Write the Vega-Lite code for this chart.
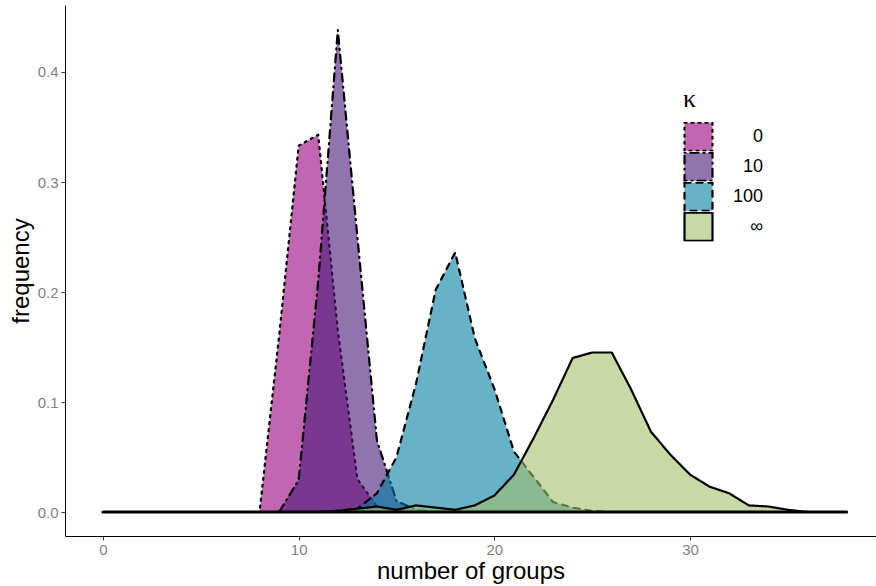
{
  "$schema": "https://vega.github.io/schema/vega-lite/v6.json",
  "width": 811,
  "height": 531,
  "autosize": {"type": "none"},
  "padding": {"left": 65, "top": 5, "right": 0, "bottom": 50},
  "background": "white",
  "config": {
    "view": {"stroke": null},
    "font": "Liberation Sans",
    "axis": {
      "grid": false,
      "domainColor": "#000000",
      "domainWidth": 1,
      "tickColor": "#333333",
      "tickSize": 4,
      "tickWidth": 1,
      "labelColor": "#7F7F7F",
      "labelFontSize": 15,
      "labelFont": "Liberation Sans",
      "titleFont": "Liberation Sans",
      "titleFontSize": 24,
      "titleFontWeight": "normal",
      "titleColor": "#000000"
    },
    "legend": {
      "symbolType": "square",
      "symbolSize": 784,
      "rowPadding": 0,
      "padding": 0
    }
  },
  "data": {
    "values": [
      {"k":"0","x":0,"y":0},{"k":"0","x":1,"y":0},{"k":"0","x":2,"y":0},{"k":"0","x":3,"y":0},{"k":"0","x":4,"y":0},{"k":"0","x":5,"y":0},{"k":"0","x":6,"y":0},{"k":"0","x":7,"y":0},{"k":"0","x":8,"y":0},{"k":"0","x":9,"y":0.16},{"k":"0","x":10,"y":0.333},{"k":"0","x":11,"y":0.343},{"k":"0","x":12,"y":0.165},{"k":"0","x":13,"y":0.03},{"k":"0","x":14,"y":0.005},{"k":"0","x":15,"y":0.001},{"k":"0","x":16,"y":0},{"k":"0","x":17,"y":0},{"k":"0","x":18,"y":0},{"k":"0","x":19,"y":0},{"k":"0","x":20,"y":0},{"k":"0","x":21,"y":0},{"k":"0","x":22,"y":0},{"k":"0","x":23,"y":0},{"k":"0","x":24,"y":0},{"k":"0","x":25,"y":0},{"k":"0","x":26,"y":0},{"k":"0","x":27,"y":0},{"k":"0","x":28,"y":0},{"k":"0","x":29,"y":0},{"k":"0","x":30,"y":0},{"k":"0","x":31,"y":0},{"k":"0","x":32,"y":0},{"k":"0","x":33,"y":0},{"k":"0","x":34,"y":0},{"k":"0","x":35,"y":0},{"k":"0","x":36,"y":0},{"k":"0","x":37,"y":0},{"k":"0","x":38,"y":0},
      {"k":"10","x":0,"y":0},{"k":"10","x":1,"y":0},{"k":"10","x":2,"y":0},{"k":"10","x":3,"y":0},{"k":"10","x":4,"y":0},{"k":"10","x":5,"y":0},{"k":"10","x":6,"y":0},{"k":"10","x":7,"y":0},{"k":"10","x":8,"y":0},{"k":"10","x":9,"y":0},{"k":"10","x":10,"y":0.029},{"k":"10","x":11,"y":0.21},{"k":"10","x":12,"y":0.438},{"k":"10","x":13,"y":0.25},{"k":"10","x":14,"y":0.065},{"k":"10","x":15,"y":0.01},{"k":"10","x":16,"y":0.002},{"k":"10","x":17,"y":0},{"k":"10","x":18,"y":0},{"k":"10","x":19,"y":0},{"k":"10","x":20,"y":0},{"k":"10","x":21,"y":0},{"k":"10","x":22,"y":0},{"k":"10","x":23,"y":0},{"k":"10","x":24,"y":0},{"k":"10","x":25,"y":0},{"k":"10","x":26,"y":0},{"k":"10","x":27,"y":0},{"k":"10","x":28,"y":0},{"k":"10","x":29,"y":0},{"k":"10","x":30,"y":0},{"k":"10","x":31,"y":0},{"k":"10","x":32,"y":0},{"k":"10","x":33,"y":0},{"k":"10","x":34,"y":0},{"k":"10","x":35,"y":0},{"k":"10","x":36,"y":0},{"k":"10","x":37,"y":0},{"k":"10","x":38,"y":0},
      {"k":"100","x":0,"y":0},{"k":"100","x":1,"y":0},{"k":"100","x":2,"y":0},{"k":"100","x":3,"y":0},{"k":"100","x":4,"y":0},{"k":"100","x":5,"y":0},{"k":"100","x":6,"y":0},{"k":"100","x":7,"y":0},{"k":"100","x":8,"y":0},{"k":"100","x":9,"y":0},{"k":"100","x":10,"y":0},{"k":"100","x":11,"y":0},{"k":"100","x":12,"y":0.001},{"k":"100","x":13,"y":0.003},{"k":"100","x":14,"y":0.017},{"k":"100","x":15,"y":0.05},{"k":"100","x":16,"y":0.117},{"k":"100","x":17,"y":0.202},{"k":"100","x":18,"y":0.236},{"k":"100","x":19,"y":0.158},{"k":"100","x":20,"y":0.112},{"k":"100","x":21,"y":0.055},{"k":"100","x":22,"y":0.032},{"k":"100","x":23,"y":0.009},{"k":"100","x":24,"y":0.004},{"k":"100","x":25,"y":0.001},{"k":"100","x":26,"y":0},{"k":"100","x":27,"y":0},{"k":"100","x":28,"y":0},{"k":"100","x":29,"y":0},{"k":"100","x":30,"y":0},{"k":"100","x":31,"y":0},{"k":"100","x":32,"y":0},{"k":"100","x":33,"y":0},{"k":"100","x":34,"y":0},{"k":"100","x":35,"y":0},{"k":"100","x":36,"y":0},{"k":"100","x":37,"y":0},{"k":"100","x":38,"y":0},
      {"k":"∞","x":0,"y":0},{"k":"∞","x":1,"y":0},{"k":"∞","x":2,"y":0},{"k":"∞","x":3,"y":0},{"k":"∞","x":4,"y":0},{"k":"∞","x":5,"y":0},{"k":"∞","x":6,"y":0},{"k":"∞","x":7,"y":0},{"k":"∞","x":8,"y":0},{"k":"∞","x":9,"y":0},{"k":"∞","x":10,"y":0},{"k":"∞","x":11,"y":0},{"k":"∞","x":12,"y":0.001},{"k":"∞","x":13,"y":0.003},{"k":"∞","x":14,"y":0.005},{"k":"∞","x":15,"y":0.002},{"k":"∞","x":16,"y":0.006},{"k":"∞","x":17,"y":0.004},{"k":"∞","x":18,"y":0.002},{"k":"∞","x":19,"y":0.006},{"k":"∞","x":20,"y":0.015},{"k":"∞","x":21,"y":0.034},{"k":"∞","x":22,"y":0.067},{"k":"∞","x":23,"y":0.102},{"k":"∞","x":24,"y":0.14},{"k":"∞","x":25,"y":0.145},{"k":"∞","x":26,"y":0.145},{"k":"∞","x":27,"y":0.111},{"k":"∞","x":28,"y":0.073},{"k":"∞","x":29,"y":0.052},{"k":"∞","x":30,"y":0.034},{"k":"∞","x":31,"y":0.023},{"k":"∞","x":32,"y":0.017},{"k":"∞","x":33,"y":0.006},{"k":"∞","x":34,"y":0.005},{"k":"∞","x":35,"y":0.002},{"k":"∞","x":36,"y":0},{"k":"∞","x":37,"y":0},{"k":"∞","x":38,"y":0}
    ]
  },
  "encoding": {
    "x": {
      "field": "x",
      "type": "quantitative",
      "scale": {"domain": [-1.94, 39.5], "nice": false, "zero": false},
      "axis": {"values": [0, 10, 20, 30], "title": "number of groups", "labelPadding": 2, "titlePadding": 2}
    },
    "y": {
      "field": "y",
      "type": "quantitative",
      "stack": null,
      "scale": {"domain": [-0.0218, 0.4609], "nice": false, "zero": false},
      "axis": {"values": [0, 0.1, 0.2, 0.3, 0.4], "format": ".1f", "title": "frequency", "labelPadding": 3, "titlePadding": 4}
    }
  },
  "layer": [
    {
      "transform": [{"filter": "datum.k === '0'"}],
      "mark": {"type": "area", "fillOpacity": 0.6, "strokeWidth": 0},
      "encoding": {
        "fill": {
          "field": "k",
          "type": "nominal",
          "scale": {"domain": ["0", "10", "100", "∞"], "range": ["#9B007D", "#481778", "#007FA2", "#A5C06B"]},
          "legend": {
            "title": "κ",
            "orient": "none",
            "legendX": 618,
            "legendY": 81,
            "padding": 0,
            "titleFont": "Liberation Serif",
            "titleFontSize": 26,
            "titleFontWeight": "normal",
            "titleColor": "#000000",
            "titlePadding": 10,
            "symbolType": "square",
            "symbolSize": 784,
            "symbolStrokeWidth": 2,
            "symbolStrokeColor": "black",
            "labelFontSize": 18,
            "labelColor": "#000000",
            "labelAlign": "right",
            "labelOffset": 49,
            "rowPadding": 0,
            "clipHeight": 29.5,
            "encode": {"symbols": {"update": {"fillOpacity": {"value": 0.6}, "stroke": {"value": "black"}, "strokeWidth": {"value": 2.2}, "strokeCap": {"value": "round"}, "strokeDash": {"scale": "strokeDash", "field": "value"}}}}
          }
        }
      }
    },
    {
      "transform": [{"filter": "datum.k === '0'"}],
      "mark": {"type": "line", "stroke": "black", "strokeWidth": 2.2, "strokeCap": "round", "strokeJoin": "round"},
      "encoding": {
        "strokeDash": {
          "field": "k",
          "type": "nominal",
          "scale": {"domain": ["0", "10", "100", "∞"], "range": [[2, 5], [1, 5, 8, 5], [6, 6], [1, 0]]},
          "legend": null
        }
      }
    },
    {
      "transform": [{"filter": "datum.k === '10'"}],
      "mark": {"type": "area", "fillOpacity": 0.6, "strokeWidth": 0},
      "encoding": {"fill": {"field": "k", "type": "nominal"}}
    },
    {
      "transform": [{"filter": "datum.k === '10'"}],
      "mark": {"type": "line", "stroke": "black", "strokeWidth": 2.2, "strokeCap": "round", "strokeJoin": "round"},
      "encoding": {"strokeDash": {"field": "k", "type": "nominal", "legend": null}}
    },
    {
      "transform": [{"filter": "datum.k === '100'"}],
      "mark": {"type": "area", "fillOpacity": 0.6, "strokeWidth": 0},
      "encoding": {"fill": {"field": "k", "type": "nominal"}}
    },
    {
      "transform": [{"filter": "datum.k === '100'"}],
      "mark": {"type": "line", "stroke": "black", "strokeWidth": 2.2, "strokeCap": "round", "strokeJoin": "round"},
      "encoding": {"strokeDash": {"field": "k", "type": "nominal", "legend": null}}
    },
    {
      "transform": [{"filter": "datum.k === '∞'"}],
      "mark": {"type": "area", "fillOpacity": 0.6, "strokeWidth": 0},
      "encoding": {"fill": {"field": "k", "type": "nominal"}}
    },
    {
      "transform": [{"filter": "datum.k === '∞'"}],
      "mark": {"type": "line", "stroke": "black", "strokeWidth": 2.2, "strokeCap": "round", "strokeJoin": "round"},
      "encoding": {"strokeDash": {"field": "k", "type": "nominal", "legend": null}}
    },
    {
      "mark": {"type": "line", "stroke": "black", "strokeWidth": 3, "strokeCap": "round"},
      "encoding": {"y": {"datum": 0}}
    }
  ]
}
